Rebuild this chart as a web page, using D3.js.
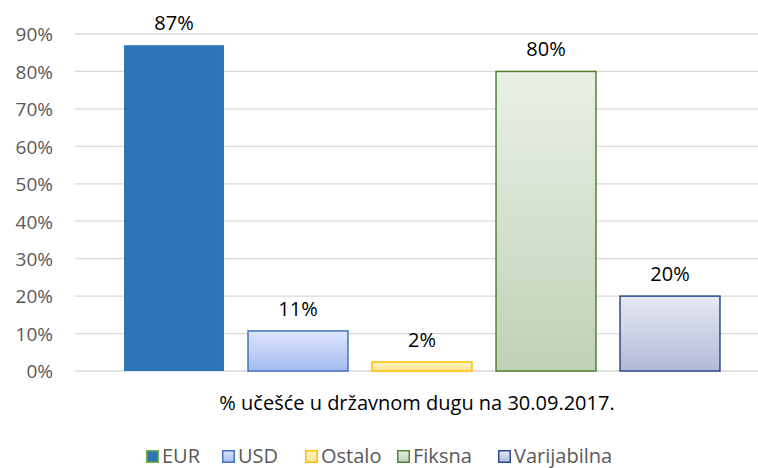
<!DOCTYPE html>
<html><head><meta charset="utf-8">
<script src="https://cdn.jsdelivr.net/npm/d3@7"></script>
<style>body{margin:0;background:#fff}svg{display:block}text{font-family:"Open Sans",sans-serif}</style>
</head><body><div id="c"></div>
<script>
const series = ["EUR","USD","Ostalo","Fiksna","Varijabilna"];
const values = [87, 10.7, 2.4, 80, 20];
const labels = ["87%","11%","2%","80%","20%"];
const yTicks = [0,10,20,30,40,50,60,70,80,90];
const axisTitle = "% učešće u državnom dugu na 30.09.2017.";
const fills = [
  ["#2E75B6","#2E75B6"],
  ["#DDE6FB","#A3BBF2"],
  ["#FFF4C8","#FFE591"],
  ["#EAF0E7","#BED2B5"],
  ["#E7EAF4","#B0B9D8"]
];
const strokes = ["#2E75B6","#4472C4","#FFC000","#548235","#2F4B8A"];
const legendStrokes = ["#70AD47","#4472C4","#FFC000","#548235","#2F4B8A"];

const W=758,H=468, FS=20;
const svg=d3.select("#c").append("svg").attr("width",W).attr("height",H);
const defs=svg.append("defs");
fills.forEach((f,i)=>{
  const g=defs.append("linearGradient").attr("id","g"+i).attr("x1",0).attr("y1",0).attr("x2",0).attr("y2",1);
  g.append("stop").attr("offset","0%").attr("stop-color",f[0]);
  g.append("stop").attr("offset","100%").attr("stop-color",f[1]);
});
const y=d3.scaleLinear().domain([0,90]).range([371,34]);
const x=d3.scaleBand().domain(series).range([112,732]).paddingInner(0.194).paddingOuter(0.097);

svg.append("g").selectAll("line").data(yTicks).join("line")
  .attr("x1",75).attr("x2",758).attr("y1",d=>y(d)).attr("y2",d=>y(d))
  .attr("stroke","#D9D9D9").attr("stroke-width",1.3);
const ya=d3.axisLeft(y).tickValues(yTicks).tickFormat(d=>d+"%").tickSize(0).tickPadding(0);
const gy=svg.append("g").attr("transform","translate(53,0)").call(ya);
gy.select(".domain").remove();
gy.selectAll("text").attr("font-size",FS-1).attr("fill","#595959").attr("font-family","'Open Sans',sans-serif").attr("dy","0.36em");

svg.append("g").selectAll("rect").data(series).join("rect")
  .attr("x",d=>x(d)).attr("width",x.bandwidth())
  .attr("y",(d,i)=>y(values[i])).attr("height",(d,i)=>y(0)-y(values[i]))
  .attr("fill",(d,i)=>`url(#g${i})`)
  .attr("stroke",(d,i)=>i===0?"none":strokes[i]).attr("stroke-width",1.5);
svg.append("g").selectAll("text").data(series).join("text")
  .attr("x",d=>x(d)+x.bandwidth()/2).attr("y",(d,i)=>y(values[i])-15)
  .attr("text-anchor","middle").attr("font-size",FS).attr("fill","#000")
  .text((d,i)=>labels[i]);
svg.append("text").attr("x",417).attr("y",410).attr("text-anchor","middle")
  .attr("font-size",FS).attr("fill","#000").text(axisTitle);
const lx=[146,222,305,397,498];
const lg=svg.append("g").selectAll("g").data(series).join("g")
  .attr("transform",(d,i)=>`translate(${lx[i]},450)`);
lg.append("rect").attr("x",0.75).attr("y",0.75).attr("width",11.5).attr("height",11.5)
  .attr("fill",(d,i)=>`url(#g${i})`).attr("stroke",(d,i)=>legendStrokes[i]).attr("stroke-width",1.5);
lg.append("text").attr("x",16).attr("y",13).attr("font-size",FS).attr("fill","#595959").text(d=>d);
</script></body></html>
